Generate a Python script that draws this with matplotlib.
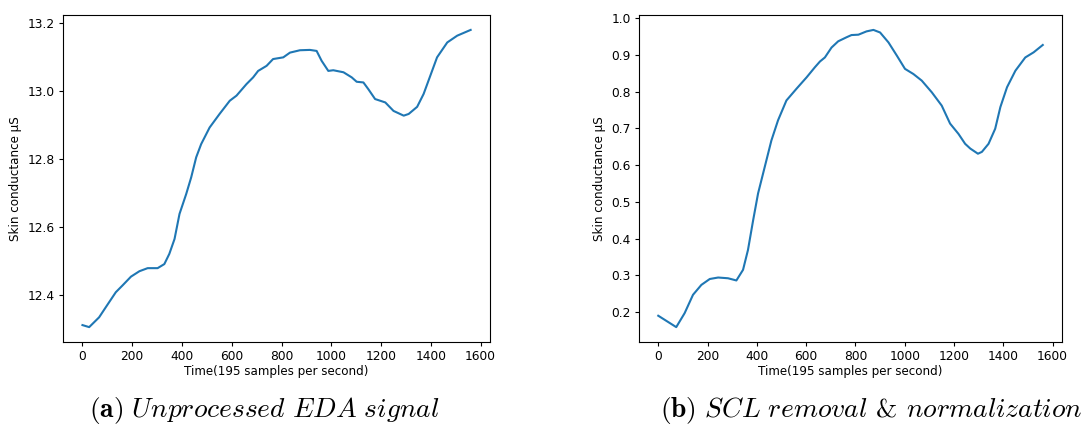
import matplotlib
matplotlib.use('Agg')
import matplotlib.pyplot as plt

# raw EDA signal (sample index, microsiemens)
raw_t = [0, 27, 67, 94, 134, 161, 195, 229, 262, 302, 329, 349, 370, 390, 417,
         437, 457, 477, 511, 551, 592, 619, 659, 686, 706, 740, 766, 807, 834,
         874, 914, 941, 961, 988, 1008, 1049, 1082, 1102, 1129, 1149, 1176,
         1217, 1250, 1291, 1311, 1345, 1371, 1398, 1425, 1466, 1506, 1560]
raw_sc = [12.310, 12.304, 12.333, 12.363, 12.407, 12.427, 12.453, 12.469,
          12.478, 12.478, 12.490, 12.520, 12.564, 12.638, 12.697, 12.746,
          12.805, 12.844, 12.893, 12.933, 12.972, 12.987, 13.021, 13.041,
          13.060, 13.075, 13.095, 13.100, 13.114, 13.121, 13.122, 13.119,
          13.090, 13.060, 13.062, 13.056, 13.041, 13.028, 13.026, 13.006,
          12.977, 12.967, 12.942, 12.928, 12.933, 12.954, 12.992, 13.046,
          13.100, 13.144, 13.164, 13.181]

# after SCL removal and normalization
norm_t = [0, 73, 107, 141, 175, 209, 243, 283, 317, 344, 364, 385, 405, 432,
          459, 486, 520, 561, 602, 635, 656, 676, 703, 730, 764, 784, 812, 845,
          873, 900, 934, 968, 1001, 1035, 1069, 1110, 1150, 1184, 1218, 1245,
          1266, 1297, 1313, 1340, 1367, 1388, 1415, 1449, 1489, 1523, 1560]
norm_sc = [0.190, 0.159, 0.197, 0.247, 0.274, 0.290, 0.294, 0.292, 0.286,
           0.315, 0.369, 0.450, 0.523, 0.595, 0.667, 0.722, 0.776, 0.808,
           0.839, 0.866, 0.882, 0.893, 0.920, 0.937, 0.948, 0.954, 0.955,
           0.964, 0.968, 0.961, 0.934, 0.898, 0.862, 0.848, 0.830, 0.798,
           0.762, 0.713, 0.685, 0.658, 0.645, 0.631, 0.636, 0.658, 0.699,
           0.758, 0.812, 0.857, 0.893, 0.907, 0.927]

plt.rcParams['mathtext.fontset'] = 'cm'

fig = plt.figure(figsize=(10.89, 4.30), dpi=100)
ax1 = fig.add_axes([0.0579, 0.2047, 0.3921, 0.7603])
ax2 = fig.add_axes([0.5868, 0.2047, 0.3884, 0.7603])

for ax, t, sc in [(ax1, raw_t, raw_sc), (ax2, norm_t, norm_sc)]:
    ax.plot(t, sc, color='#1f77b4', linewidth=1.5)
    ax.set_xlabel('Time(195 samples per second)', fontsize=8.6, labelpad=1)
    ax.set_ylabel('Skin conductance µS', fontsize=8.6)
    ax.tick_params(labelsize=8.8, length=3, pad=3)
    ax.set_xticks([0, 200, 400, 600, 800, 1000, 1200, 1400, 1600])

ax1.set_yticks([12.4, 12.6, 12.8, 13.0, 13.2])

# sub-figure captions
fig.text(0.243, 0.045, r'$\mathbf{(a)}\ \mathit{Unprocessed\ EDA\ signal}$',
         ha='center', va='center', fontsize=19.8, family=['cmr10', 'DejaVu Serif'])
fig.text(0.800, 0.045,
         r'$\mathbf{(b)}\ \mathit{SCL\ removal}$ & $\mathit{normalization}$',
         ha='center', va='center', fontsize=19.8, family=['cmr10', 'DejaVu Serif'])

fig.savefig('out.png', dpi=100)
